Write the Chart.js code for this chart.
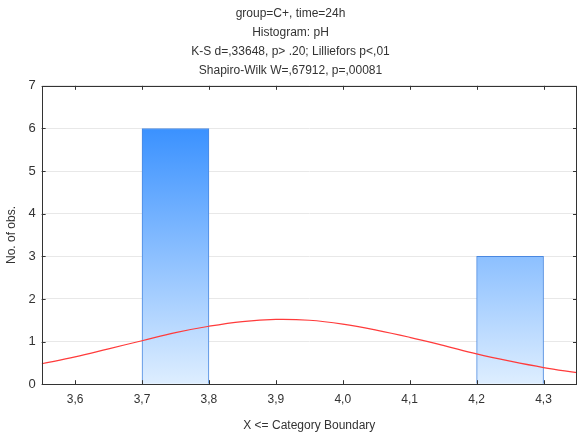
<!DOCTYPE html>
<html>
<head>
<meta charset="utf-8">
<script src="https://cdn.jsdelivr.net/npm/chart.js@4/dist/chart.umd.min.js"></script>
<style>
  body { margin: 0; background: #fff; }
</style>
</head>
<body>
<canvas id="histChart" width="578" height="437"></canvas>
<script>
// bin centres (width 0.1) and counts
var binCenters = [3.65, 3.75, 3.85, 3.95, 4.05, 4.15, 4.25];
var binCounts = [null, 6, null, null, null, null, 3];

// fitted normal curve
var curveX = [3.55, 3.60, 3.65, 3.70, 3.75, 3.80, 3.85, 3.90, 3.95, 4.00, 4.05, 4.10, 4.15, 4.20, 4.25, 4.30, 4.35];
var curveY = [0.48, 0.64, 0.83, 1.02, 1.21, 1.36, 1.47, 1.52, 1.50, 1.41, 1.27, 1.10, 0.91, 0.71, 0.54, 0.39, 0.27];

var xTicks = [3.6, 3.7, 3.8, 3.9, 4.0, 4.1, 4.2, 4.3];
var yTicks = [0, 1, 2, 3, 4, 5, 6, 7];

var titleLines = [
    "group=C+, time=24h",
    "Histogram: pH",
    "K-S d=,33648, p> .20; Lilliefors p<,01",
    "Shapiro-Wilk W=,67912, p=,00081"
];

var fontName = "'Liberation Sans', Arial, sans-serif";
var textCol = '#333333';

var barData = [];
binCenters.forEach((c, i) => {
    barData.push({x: c, y: binCounts[i]});
});
var lineData = [];
curveX.forEach((v, i) => {
    lineData.push({x: v, y: curveY[i]});
});

// frame round the plot and small inward ticks
var framePlugin = {
    id: 'frame',
    afterDraw: function(chart) {
        var ctx = chart.ctx;
        var a = chart.chartArea;
        ctx.save();
        ctx.strokeStyle = '#333333';
        ctx.lineWidth = 1;
        ctx.strokeRect(Math.round(a.left) + 0.5, Math.round(a.top) + 0.5,
            Math.round(a.right - a.left) - 1, Math.round(a.bottom - a.top));
        ctx.beginPath();
        xTicks.forEach(v => {
            var px = Math.round(chart.scales.x.getPixelForValue(v)) + 0.5;
            ctx.moveTo(px, a.bottom);
            ctx.lineTo(px, a.bottom - 4);
            ctx.moveTo(px, a.top);
            ctx.lineTo(px, a.top + 4);
        });
        yTicks.forEach(v => {
            var py = Math.round(chart.scales.y.getPixelForValue(v)) + 0.5;
            ctx.moveTo(a.left, py);
            ctx.lineTo(a.left + 4, py);
            ctx.moveTo(a.right, py);
            ctx.lineTo(a.right - 4, py);
        });
        ctx.stroke();
        ctx.restore();
    }
};

var ctx = document.getElementById('histChart').getContext('2d');
var histChart = new Chart(ctx, {
    type: 'bar',
    data: {
        datasets: [{
            type: 'line',
            label: 'normal',
            data: lineData,
            borderColor: '#ff3b3b',
            borderWidth: 1.2,
            pointRadius: 0,
            tension: 0.4,
            fill: false,
            order: 0
        }, {
            label: 'pH',
            data: barData,
            backgroundColor: function(context) {
                var a = context.chart.chartArea;
                if (!a) return '#80beff';
                var g = context.chart.ctx.createLinearGradient(0, a.bottom, 0, a.top);
                g.addColorStop(0, '#deeeff');
                g.addColorStop(1, '#1f82ff');
                return g;
            },
            borderColor: '#4a88e0',
            borderWidth: 1,
            borderSkipped: 'bottom',
            barPercentage: 1,
            categoryPercentage: 1,
            order: 1
        }]
    },
    options: {
        responsive: false,
        animation: false,
        devicePixelRatio: 1,
        layout: { padding: { left: 4, right: 1, top: 4, bottom: 4 } },
        plugins: {
            legend: { display: false },
            tooltip: { enabled: false },
            title: {
                display: true,
                text: titleLines,
                color: textCol,
                font: { family: fontName, size: 12, weight: 'normal', lineHeight: 1.58 },
                padding: { top: 0, bottom: 6 }
            }
        },
        scales: {
            x: {
                type: 'linear',
                offset: false,
                min: 3.55,
                max: 4.35,
                afterBuildTicks: function(scale) {
                    scale.ticks = xTicks.map(v => ({value: v}));
                },
                grid: { display: false, offset: false },
                border: { display: false },
                ticks: {
                    color: textCol,
                    font: { family: fontName, size: 12 },
                    padding: 0,
                    maxRotation: 0,
                    callback: function(v) { return Number(v).toFixed(1).replace('.', ','); }
                },
                title: {
                    display: true,
                    text: 'X <= Category Boundary',
                    color: textCol,
                    font: { family: fontName, size: 12 },
                    padding: { top: 12, bottom: 0 }
                }
            },
            y: {
                min: 0,
                max: 7,
                afterBuildTicks: function(scale) {
                    scale.ticks = yTicks.map(v => ({value: v}));
                },
                grid: { color: '#e8e8e8', drawTicks: false },
                border: { display: false },
                ticks: {
                    color: textCol,
                    font: { family: fontName, size: 13 },
                    padding: 6
                },
                title: {
                    display: true,
                    text: 'No. of obs.',
                    color: textCol,
                    font: { family: fontName, size: 12 },
                    padding: { top: 0, bottom: 4 }
                }
            }
        }
    },
    plugins: [framePlugin]
});
</script>
</body>
</html>
